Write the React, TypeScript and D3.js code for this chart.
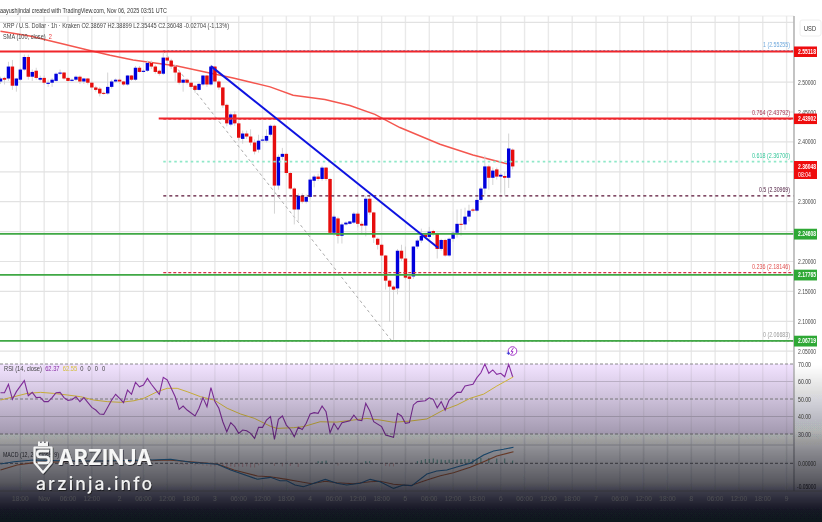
import React from "react";
import * as d3 from "d3";

const opens = [2.501,2.507,2.506,2.526,2.494,2.504,2.521,2.542,2.509,2.519,2.504,2.507,2.497,2.499,2.502,2.514,2.516,2.507,2.502,2.504,2.509,2.501,2.506,2.499,2.491,2.489,2.482,2.481,2.492,2.501,2.504,2.501,2.496,2.511,2.504,2.524,2.517,2.519,2.532,2.526,2.519,2.514,2.541,2.536,2.526,2.516,2.499,2.504,2.499,2.494,2.487,2.496,2.511,2.496,2.526,2.501,2.491,2.462,2.429,2.446,2.431,2.405,2.414,2.409,2.399,2.387,2.402,2.402,2.412,2.427,2.327,2.375,2.380,2.348,2.322,2.287,2.310,2.300,2.308,2.335,2.342,2.338,2.357,2.338,2.248,2.272,2.243,2.262,2.263,2.265,2.280,2.263,2.260,2.305,2.282,2.238,2.228,2.210,2.168,2.158,2.155,2.218,2.205,2.175,2.175,2.225,2.235,2.245,2.241,2.251,2.246,2.221,2.236,2.210,2.238,2.248,2.263,2.262,2.275,2.287,2.285,2.303,2.322,2.359,2.340,2.354,2.342,2.343,2.340,2.387];
const closes = [2.506,2.504,2.526,2.494,2.506,2.521,2.542,2.509,2.517,2.507,2.507,2.499,2.499,2.504,2.514,2.516,2.506,2.502,2.504,2.509,2.501,2.506,2.499,2.491,2.487,2.481,2.481,2.492,2.501,2.504,2.501,2.496,2.511,2.504,2.524,2.517,2.519,2.532,2.526,2.517,2.514,2.541,2.536,2.526,2.516,2.499,2.504,2.499,2.492,2.487,2.497,2.511,2.496,2.526,2.501,2.491,2.461,2.431,2.446,2.431,2.407,2.414,2.409,2.399,2.384,2.402,2.404,2.410,2.427,2.327,2.375,2.380,2.348,2.322,2.287,2.310,2.300,2.308,2.337,2.342,2.338,2.357,2.338,2.248,2.275,2.243,2.262,2.265,2.267,2.280,2.263,2.260,2.305,2.282,2.240,2.228,2.210,2.168,2.158,2.153,2.218,2.205,2.173,2.171,2.225,2.235,2.243,2.241,2.250,2.246,2.221,2.236,2.210,2.238,2.248,2.263,2.262,2.275,2.285,2.285,2.303,2.322,2.359,2.340,2.352,2.342,2.345,2.340,2.389,2.359];
const highs = [2.509,2.509,2.534,2.537,2.507,2.524,2.546,2.546,2.521,2.524,2.511,2.511,2.504,2.507,2.516,2.521,2.517,2.509,2.506,2.511,2.511,2.507,2.507,2.501,2.494,2.492,2.484,2.516,2.504,2.506,2.506,2.502,2.512,2.512,2.527,2.527,2.522,2.536,2.536,2.529,2.521,2.549,2.551,2.539,2.529,2.519,2.506,2.506,2.501,2.496,2.499,2.512,2.512,2.529,2.527,2.504,2.492,2.464,2.449,2.451,2.434,2.419,2.419,2.421,2.404,2.412,2.410,2.421,2.429,2.429,2.379,2.390,2.382,2.350,2.324,2.314,2.314,2.312,2.340,2.345,2.347,2.360,2.358,2.340,2.278,2.275,2.265,2.267,2.268,2.283,2.283,2.267,2.310,2.310,2.283,2.240,2.230,2.211,2.170,2.160,2.221,2.228,2.225,2.178,2.226,2.238,2.255,2.248,2.258,2.253,2.248,2.238,2.238,2.240,2.251,2.287,2.288,2.290,2.295,2.290,2.307,2.325,2.377,2.362,2.357,2.357,2.348,2.350,2.414,2.389];
const lows = [2.497,2.496,2.502,2.487,2.484,2.502,2.519,2.504,2.502,2.504,2.501,2.496,2.492,2.492,2.501,2.512,2.504,2.501,2.501,2.502,2.497,2.497,2.496,2.487,2.484,2.476,2.479,2.479,2.489,2.499,2.497,2.494,2.494,2.502,2.502,2.516,2.516,2.517,2.522,2.514,2.511,2.512,2.532,2.522,2.501,2.496,2.484,2.496,2.489,2.482,2.486,2.494,2.492,2.494,2.497,2.487,2.457,2.426,2.426,2.427,2.402,2.397,2.405,2.394,2.379,2.382,2.400,2.399,2.409,2.280,2.320,2.370,2.344,2.320,2.262,2.268,2.297,2.297,2.305,2.324,2.335,2.335,2.335,2.246,2.243,2.230,2.230,2.260,2.262,2.263,2.257,2.245,2.242,2.278,2.231,2.220,2.176,2.153,2.099,2.069,2.145,2.201,2.170,2.101,2.171,2.221,2.231,2.240,2.238,2.243,2.205,2.218,2.208,2.208,2.233,2.240,2.243,2.253,2.267,2.282,2.283,2.298,2.312,2.320,2.328,2.337,2.315,2.310,2.323,2.354];

const smaBars = [0,7.4,15,22.5,27.6,33.4,38.9,44.5,51.5,58.6,62.8,67.9,73.7,81.7,88,94.3,100.6,110.7,119,127.8];
const smaValues = [2.585,2.577,2.565,2.553,2.545,2.537,2.532,2.527,2.517,2.507,2.500,2.492,2.478,2.471,2.461,2.446,2.424,2.396,2.378,2.363];

const rsiBars = [0,1,2,3,4,6,7,8,9,10,11,12,13,14,15,16,17,18,19,20,21,23,24,25,26,28,29,30,31,32,33,34,35,36,37,38,39,40,41,42,43,44,45,46,47,49,50,51,52,53,54,55,56,57,58,59,60,61,62,63,64,65,66,67,68,69,70,71,72,73,74,75,76,77,78,79,80,81,82,83,84,85,86,88,89,90,91,92,93,94,96,97,99,100,101,102,103,104,105,107,108,109,110,111,112,113,115,116,117,119,120,121,122,123,124,125,126,127,128,129];
const rsiValues = [53.6,53.6,58.4,49.8,54.2,60.5,51.9,53.8,50.8,51,48.5,48.5,50.8,53.6,53.8,50.8,49.2,49.6,51.3,48.5,50.8,45.2,43.7,41.4,41.2,49.4,52.7,50.4,47.9,55.1,52.7,59.5,57,58,61.8,58.4,55.5,52.7,62.4,60.9,56.1,51.3,44.1,46,43.7,40.3,44.7,50.8,45.6,56.5,48.5,44.7,37,31.3,36.5,34.2,30.4,32.3,31.9,30.4,27.5,33.8,33.8,38,40,26.9,38.4,40.3,35.1,32.6,28.5,33.8,32.6,36.1,41.4,42.2,41.8,46,42.7,30.7,36.1,32.6,36.5,37.6,40.8,38,37.6,47.5,43.3,37,34.2,29.4,28.1,41.8,40.3,36.1,36.5,46.6,48.5,49,50.7,49.8,45,48.5,43.7,49.4,53.8,53.8,57.4,58.4,62.2,65,70,64.7,66.6,64.1,64.7,62.7,69.8,62.7];
const rsiMaBars = [0,3.4,6.7,10.1,13.4,16.8,20.2,23.5,26.9,30.3,33.6,36.1,39.5,42,44.5,47,50.4,53.8,57.1,60.5,63.9,68,69.6,73.8,76.3,80.5,84.7,88.9,92.3,95.6,99,103.2,107.4,111.6,115,118.3,121.7,125,129.2];
const rsiMaValues = [49.4,51.3,53.2,53.8,53.2,52.3,51.3,49.4,48.5,48.1,49,50.4,54.2,56.1,56.1,54.2,51.3,49.4,44.7,41.4,39,34.4,33.2,33.6,34.2,37,36.8,38,38.9,38,36.7,37.4,38.6,43.7,46.6,50.4,52.8,57.4,62.7];

const macdBars = [0,3.4,8.4,17,26,37.8,42.9,47.9,54.6,58,64.7,68,70.4,72.1,74.2,76.3,78.4,81.8,84.7,87.2,90.6,93.1,95.6,99,101.5,103.6,107.4,109.9,112.4,115.8,118.3,121.7,124.2,126.7,129.2];
const macdValues = [-0.0013,0.003,0.0062,0.0043,0.0043,0.0062,0.0075,0.0019,-0.0019,-0.0126,-0.0302,-0.0265,-0.0328,-0.0328,-0.0409,-0.0442,-0.0391,-0.0303,-0.0378,-0.0409,-0.0378,-0.0303,-0.0348,-0.0473,-0.0409,-0.0422,-0.0202,-0.0145,-0.0126,-0.0051,0,0.0157,0.0233,0.0264,0.0302];
const signalBars = [0,4.2,8.4,20,37.8,42,47.9,54.6,58.8,64.7,67.9,72.1,75.5,78.4,81.8,84.7,88.9,93.1,95.6,99,103.2,107.4,110.8,114.1,118.3,121.7,125,129.2];
const signalValues = [-0.0126,-0.0032,0.0012,0.004,0.0049,0.0062,0.003,-0.0013,-0.0126,-0.024,-0.0253,-0.0303,-0.0348,-0.0385,-0.034,-0.0366,-0.0385,-0.0348,-0.034,-0.0396,-0.0422,-0.0315,-0.0234,-0.0177,-0.0075,0.003,0.0138,0.0219];
const histBars = [45,46,47,49,50,51,52,53,54,55,56,57,58,59,60,61,62,63,64,65,69,71,73,75,80,81,82,85,92,93,97,98,99,105,106,107,108,109,110,111,112,113,114,115,116,117,118,119,120,121,123,125,127,129];
const histValues = [-0.002,-0.003,-0.003,-0.004,-0.003,-0.004,-0.005,-0.006,-0.006,-0.005,-0.006,-0.007,-0.006,-0.007,-0.006,-0.007,-0.006,-0.008,-0.008,-0.004,-0.005,-0.006,-0.005,-0.007,0.004,0.004,0.005,-0.004,0.004,0.004,-0.005,-0.006,-0.006,0.004,0.006,0.008,0.008,0.009,0.007,0.007,0.006,0.007,0.007,0.007,0.008,0.008,0.008,0.008,0.009,0.01,0.01,0.009,0.009,0.005];

const priceTicks = [2.6,2.5,2.45,2.4,2.35,2.3,2.25,2.2,2.15,2.1,2.05];
const priceTickLabels = [2.5,2.45,2.4,2.3,2.2,2.15,2.1,2.05];
const rsiDashed = [70,50,30];
const rsiSolid = [60,40];
const rsiLabels = [70,60,50,40,30];

const timeLabels = ["18:00","Nov","06:00","12:00","2","06:00","12:00","18:00","3","06:00","12:00","18:00","4","06:00","12:00","18:00","5","06:00","12:00","18:00","6","06:00","12:00","18:00","7","06:00","12:00","18:00","8","06:00","12:00","18:00","9"];
const timeBars = [5,11,17,23,30,36,42,48,54,60,66,72,78,84,90,96,102,108,114,120,126,132,138,144,150,156,162,168,174,180,186,192,198];

const redLevels = [2.55118,2.43902];
const greenLevels = [2.24608,2.17765,2.06719];
const lastPrice = "2.36048";
const fibLevels = [1,0.764,0.618,0.5,0.236,0];
const fibPrices = [2.55255,2.43792,2.367,2.30969,2.18146,2.06683];
const fibTextColors = ["#6fa8dc","#a83250","#35c79a","#4d1f40","#e2504f","#9a9a9a"];
const fibLineColors = ["#6fa8dc","#e0405a","#8fe8c8","#5a1236","#d8304a","#9a9a9a"];
const fibDash = ["2 2","3 2","2.5 3","3 3","3 2","2 2"];
const fibWidths = [1.2,1.2,1.8,1.1,1.1,1.2];
const fibLabelWidths = [27,38,38,31,38,27];

const trendPrices = [2.5267,2.2229];
const trendBars = [53,110.2];
const fibDiagonalBars = [41,98.6];

const x = d3.scaleLinear().domain([0, 198]).range([0.5, 786.6]);
const yP = d3.scaleLinear().domain([2.05, 2.6]).range([351.2, 22.3]);
const yR = d3.scaleLinear().domain([30, 70]).range([434, 364]);
const yM = d3.scaleLinear().domain([-0.05, 0]).range([489.8, 463.3]);

const lineOf = (bars: number[], vals: number[], y: (v: number) => number) =>
  d3.line<number>().x((b) => x(b)).y((_, i) => y(vals[i])).curve(d3.curveLinear)(bars) as string;

const PLOT_R = 794;
const SANS = "'Liberation Sans', Arial, sans-serif";

function T(p: { x: number; y: number; s?: number; f?: string; w?: number; a?: string; b?: boolean; children: React.ReactNode }) {
  return (
    <text x={p.x} y={p.y} fontSize={p.s ?? 7} fill={p.f ?? "#333"} textAnchor={p.a as any} textLength={p.w} lengthAdjust={p.w ? "spacingAndGlyphs" : undefined} fontWeight={p.b ? 700 : 400} fontFamily={SANS}>
      {p.children}
    </text>
  );
}

export default function App() {
  return (
    <svg width={822} height={522} viewBox="0 0 822 522" style={{ position: "fixed", left: 0, top: 0, display: "block", background: "#fff" }}>
      <defs>
        <filter id="soft" x="0" y="0" width="100%" height="100%"><feGaussianBlur stdDeviation="0.32" /></filter>
        <linearGradient id="fade" x1="0" y1="0" x2="0" y2="1">
          <stop offset="0" stopColor="#11121e" stopOpacity="0" />
          <stop offset="0.06" stopColor="#11121e" stopOpacity="0" />
          <stop offset="0.27" stopColor="#11121e" stopOpacity="0.17" />
          <stop offset="0.45" stopColor="#11121e" stopOpacity="0.33" />
          <stop offset="0.51" stopColor="#11121e" stopOpacity="0.42" />
          <stop offset="0.57" stopColor="#11121e" stopOpacity="0.5" />
          <stop offset="0.76" stopColor="#11121e" stopOpacity="0.7" />
          <stop offset="0.81" stopColor="#11121e" stopOpacity="0.8" />
          <stop offset="0.93" stopColor="#11121e" stopOpacity="0.97" />
          <stop offset="1" stopColor="#11121e" stopOpacity="1" />
        </linearGradient>
        <filter id="logoShadow" x="-5%" y="-10%" width="110%" height="130%"><feDropShadow dx="0.8" dy="1" stdDeviation="0.6" floodColor="#000" floodOpacity="0.55" /></filter>
      </defs>
      <g filter="url(#soft)">
        <line x1={0} x2={PLOT_R} y1={16} y2={16} stroke="#ededed" />
        {timeBars.map((b, i) => (
          <line key={i} x1={x(b)} x2={x(b)} y1={16} y2={491} stroke="#e9e9e9" strokeWidth={1.4} />
        ))}
        {priceTicks.map((p) => (
          <line key={p} x1={0} x2={PLOT_R} y1={yP(p)} y2={yP(p)} stroke="#e2e2e2" strokeWidth={1.2} />
        ))}

        <path d={lineOf(smaBars, smaValues, yP)} fill="none" stroke="#f4574f" strokeWidth={1.5} />

        <line x1={x(fibDiagonalBars[0])} x2={x(fibDiagonalBars[1])} y1={yP(fibPrices[0])} y2={yP(fibPrices[5])} stroke="#aaa" strokeWidth={1} strokeDasharray="3 3" />

        {highs.map((h, i) => (
          <line key={i} x1={x(i)} x2={x(i)} y1={yP(h)} y2={yP(lows[i])} stroke="#d4d4d4" strokeWidth={1} />
        ))}
        {opens.map((o, i) => {
          const c = closes[i];
          const top = yP(Math.max(o, c));
          const bot = yP(Math.min(o, c));
          return <rect key={i} x={x(i) - 1.7} width={3.4} y={top} height={Math.max(bot - top, 1)} fill={c >= o ? "#0505dc" : "#e60808"} />;
        })}

        {fibPrices.map((p, i) => (
          <line key={p} x1={x(fibDiagonalBars[0])} x2={PLOT_R} y1={yP(p)} y2={yP(p)} stroke={fibLineColors[i]} strokeWidth={fibWidths[i]} strokeDasharray={fibDash[i]} />
        ))}
        <line x1={0} x2={PLOT_R} y1={yP(redLevels[0])} y2={yP(redLevels[0])} stroke="#f0272c" strokeWidth={2} />
        <line x1={158.7} x2={PLOT_R} y1={yP(redLevels[1])} y2={yP(redLevels[1])} stroke="#f0272c" strokeWidth={2} />
        {greenLevels.map((p) => (
          <line key={p} x1={0} x2={PLOT_R} y1={yP(p)} y2={yP(p)} stroke="#3fa845" strokeWidth={1.8} />
        ))}
        <line x1={x(trendBars[0])} x2={x(trendBars[1])} y1={yP(trendPrices[0])} y2={yP(trendPrices[1])} stroke="#0c12e0" strokeWidth={2} />

        {fibLevels.map((l, i) => (
          <T key={l} x={790} y={yP(fibPrices[i]) - 4} a="end" s={7} f={fibTextColors[i]} w={fibLabelWidths[i]}>{`${l} (${fibPrices[i].toFixed(5)})`}</T>
        ))}

        {/* RSI pane */}
        <rect x={0} y={yR(70)} width={PLOT_R} height={yR(30) - yR(70)} fill="#f1e2fe" />
        {timeBars.map((b, i) => (
          <line key={i} x1={x(b)} x2={x(b)} y1={yR(70)} y2={yR(30)} stroke="#e3d6ee" strokeWidth={1.4} />
        ))}
        {rsiSolid.map((v) => <line key={v} x1={0} x2={PLOT_R} y1={yR(v)} y2={yR(v)} stroke="#c8bcd2" strokeWidth={1} />)}
        {rsiDashed.map((v) => <line key={v} x1={0} x2={PLOT_R} y1={yR(v)} y2={yR(v)} stroke="#8a8a8a" strokeWidth={1} strokeDasharray="3 2" />)}
        <path d={lineOf(rsiMaBars, rsiMaValues, yR)} fill="none" stroke="#e3c43a" strokeWidth={1} />
        <path d={lineOf(rsiBars, rsiValues, yR)} fill="none" stroke="#8b2fa6" strokeWidth={1.1} />

        {/* MACD pane */}
        <line x1={0} x2={PLOT_R} y1={445} y2={445} stroke="#cfcfcf" />
        <line x1={0} x2={PLOT_R} y1={yM(0)} y2={yM(0)} stroke="#666" strokeDasharray="3 2" />
        {histBars.map((b, i) => (
          <line key={b} x1={x(b)} x2={x(b)} y1={yM(0)} y2={yM(histValues[i])} stroke={histValues[i] >= 0 ? "#1f8a70" : "#d9534f"} strokeWidth={0.9} opacity={histValues[i] >= 0 ? 0.8 : 0.45} />
        ))}
        <path d={lineOf(signalBars, signalValues, yM)} fill="none" stroke="#c4622d" strokeWidth={1.1} />
        <path d={lineOf(macdBars, macdValues, yM)} fill="none" stroke="#1f78b4" strokeWidth={1.1} />

        {/* Axis */}
        <line x1={PLOT_R} x2={PLOT_R} y1={16} y2={491} stroke="#b5b5b5" strokeWidth={1.6} />

        {/* Legends */}
        <T x={0} y={13} s={7.2} f="#333" w={167}>aayushjindal created with TradingView.com, Nov 06, 2025 03:51 UTC</T>
        <T x={3} y={28} s={7.2} f="#444" w={226}>XRP / U.S. Dollar · 1h · Kraken  O2.38697  H2.38899  L2.35445  C2.36048  -0.02704 (-1.13%)</T>
        <g transform="translate(3,39) scale(0.78,1)">
          <text fontSize={7.2} fontFamily={SANS} fill="#444">SMA (100, close)<tspan dx={4} fill="#e33">2</tspan></text>
        </g>
        <g transform="translate(4,371) scale(0.8,1)">
          <text fontSize={7.2} fontFamily={SANS} fill="#444">RSI (14, close)<tspan dx={4} fill="#8b2fa6">62.37</tspan><tspan dx={4} fill="#d8c23a">62.55</tspan><tspan dx={4}>0</tspan><tspan dx={5}>0</tspan><tspan dx={5}>0</tspan><tspan dx={5}>0</tspan></text>
        </g>
        <T x={3} y={457} s={7} f="#333" w={56}>MACD (12, 26, close, 9)</T>

        {/* Alert icon */}
        <circle cx={512.5} cy={351} r={4.3} fill="#fff" stroke="#a53bc8" strokeWidth={1} />
        <path d="M513.5 347.8 L511 351.4 H513 L511.6 354.2" fill="none" stroke="#a53bc8" strokeWidth={1} />
        <path d="M506.8 353.2 H510 M508.4 351.6 V354.8" stroke="#3b3bd8" strokeWidth={1} />

        <rect x={0} y={355} width={822} height={167} fill="url(#fade)" />
        <rect x={0} y={490.6} width={822} height={0.8} fill="#33343c" />

        {/* Right labels */}
        <rect x={800} y={20} width={21} height={16} rx={2} fill="#fff" stroke="#eee" />
        <T x={804} y={31} s={7} f="#333" w={12}>USD</T>
        {priceTickLabels.map((p) => (
          <T key={p} x={798} y={yP(p) + 2.5} s={6.8} f="#444" w={18}>{p.toFixed(5)}</T>
        ))}
        {rsiLabels.map((v) => (
          <T key={v} x={798} y={yR(v) + 2.5} s={6.8} f="#333" w={13}>{v.toFixed(2)}</T>
        ))}
        <T x={798} y={yM(0) + 2.5} s={6.8} f="#222" w={18}>0.00000</T>
        <g transform={`translate(797,${yM(-0.05) - 0.5}) scale(0.72,1)`}>
          <text fontSize={6.8} fontFamily={SANS} fill="#111">-0.05000</text>
        </g>

        {redLevels.map((p) => (
          <g key={p}>
            <rect x={794} y={yP(p) - 5} width={23} height={10.5} fill="#ee0b10" />
            <T x={798} y={yP(p) + 2.5} s={6.8} f="#fff" b w={18}>{p.toFixed(5)}</T>
          </g>
        ))}
        <rect x={794} y={161} width={23} height={18} fill="#ee0b10" />
        <T x={798} y={168.5} s={6.8} f="#fff" b w={18}>{lastPrice}</T>
        <T x={798} y={177} s={6.4} f="#fff" w={13}>08:04</T>
        {greenLevels.map((p) => (
          <g key={p}>
            <rect x={794} y={yP(p) - 5.2} width={23} height={10.8} fill="#2ea836" />
            <T x={798} y={yP(p) + 2.5} s={6.8} f="#fff" b w={18}>{p.toFixed(5)}</T>
          </g>
        ))}

        {timeLabels.map((l, i) => (
          <T key={i} x={x(timeBars[i])} y={501} a="middle" s={6.6} f="#4c4c55">{l}</T>
        ))}

        {/* Logo */}
        <g filter="url(#logoShadow)">
          <path d="M38 446 V441.5 H40 V443 H42 V441.5 H44 V443 H46 V441.5 H48 V446 Z" fill="#f4f4f4" />
          <path d="M34.5 447.5 H51.5 V462.5 L43 472.5 L34.5 462.5 Z" fill="none" stroke="#f4f4f4" strokeWidth={2.2} strokeLinejoin="round" />
          <path d="M49 451 H40 Q37.2 451 37.2 454 Q37.2 457 40 457 H46 Q48.8 457 48.8 460 Q48.8 463 46 463 H37.5" fill="none" stroke="#f4f4f4" strokeWidth={2.4} />
          <text x={58} y={465} fontSize={21} fontWeight={700} fill="#f6f6f6" fontFamily="Inter, 'Liberation Sans', sans-serif" textLength={94} lengthAdjust="spacingAndGlyphs">ARZINJA</text>
          <text x={36} y={490} fontSize={17.5} fontWeight={500} fill="#f2f2f2" fontFamily="Inter, 'Liberation Sans', sans-serif" textLength={116} lengthAdjust="spacing">arzinja.info</text>
        </g>
      </g>
    </svg>
  );
}
